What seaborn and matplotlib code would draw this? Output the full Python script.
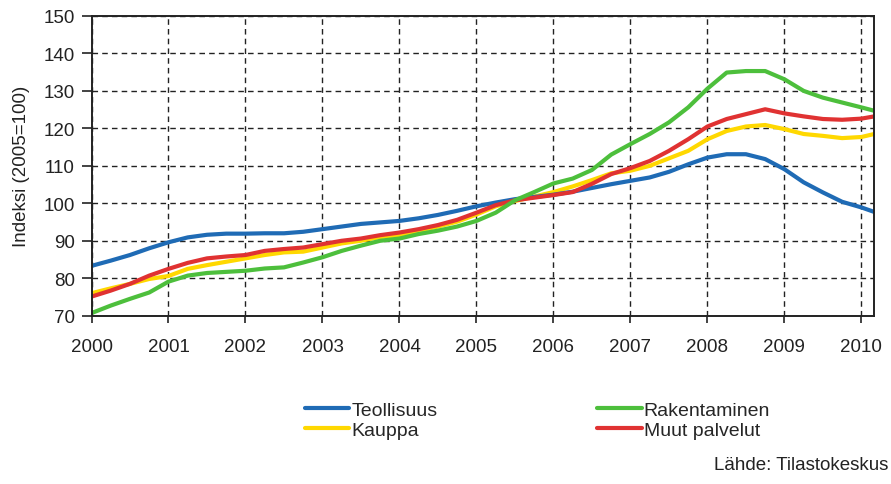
import pandas as pd
import matplotlib.pyplot as plt
import seaborn as sns

# quarterly readings 2000.00 ... 2010.00, last point March 2010
YEARS = [2000 + i * 0.25 for i in range(41)] + [2010 + 2 / 12]

TEOLLISUUS = [
    83.3, 84.7, 86.2, 88.0,
    89.6, 90.9, 91.6, 91.9,
    91.9, 92.0, 92.0, 92.4,
    93.1, 93.8, 94.5, 94.9,
    95.3, 96.0, 96.9, 98.0,
    99.2, 100.2, 101.1, 101.7,
    102.3, 103.1, 104.1, 105.1,
    106.0, 106.9, 108.4, 110.4,
    112.2, 113.1, 113.1, 111.8,
    109.1, 105.6, 102.9, 100.4,
    98.9, 97.7,
]
RAKENTAMINEN = [
    70.7, 72.7, 74.5, 76.2,
    79.1, 80.7, 81.4, 81.7,
    82.0, 82.6, 82.9, 84.2,
    85.6, 87.3, 88.7, 90.0,
    90.6, 91.8, 92.7, 93.8,
    95.3, 97.5, 100.8, 103.0,
    105.3, 106.6, 108.9, 113.0,
    115.8, 118.5, 121.6, 125.6,
    130.6, 134.9, 135.3, 135.3,
    133.1, 130.0, 128.2, 126.9,
    125.6, 124.7,
]
KAUPPA = [
    76.0, 77.3, 78.5, 79.8,
    80.6, 82.5, 83.5, 84.4,
    85.3, 86.2, 86.9, 87.1,
    88.2, 89.3, 90.0, 91.0,
    91.5, 92.7, 93.8, 95.1,
    97.0, 99.2, 100.6, 101.8,
    103.0, 104.5, 106.2, 108.0,
    108.7, 110.0, 112.0, 114.0,
    117.1, 119.3, 120.5, 120.9,
    119.8, 118.5, 118.0, 117.4,
    117.7, 118.5,
]
MUUT_PALVELUT = [
    75.1, 76.7, 78.5, 80.7,
    82.5, 84.1, 85.3, 85.8,
    86.2, 87.3, 87.8, 88.2,
    89.1, 90.0, 90.6, 91.5,
    92.2, 93.1, 94.2, 95.6,
    97.5, 99.5, 100.8, 101.5,
    102.2, 103.0, 105.2, 107.8,
    109.4, 111.3, 114.0, 117.1,
    120.5, 122.5, 123.8, 125.1,
    124.0, 123.2, 122.5, 122.3,
    122.6, 123.2,
]

LABELS = ["Teollisuus", "Kauppa", "Rakentaminen", "Muut palvelut"]
COLORS = {"Teollisuus": "#1f6bb5", "Kauppa": "#ffd800",
          "Rakentaminen": "#4dbf3c", "Muut palvelut": "#e03232"}
# draw order (last on top)
DRAW_ORDER = ["Kauppa", "Teollisuus", "Muut palvelut", "Rakentaminen"]

series = {"Teollisuus": TEOLLISUUS, "Kauppa": KAUPPA,
          "Rakentaminen": RAKENTAMINEN, "Muut palvelut": MUUT_PALVELUT}
df = pd.DataFrame({"vuosi": YEARS, **series})

sns.set_style("white")
plt.rcParams["font.family"] = ["Liberation Sans", "DejaVu Sans"]

fig = plt.figure(figsize=(8.91, 4.85), dpi=100)
ax = fig.add_axes([0.1027, 0.347, 0.8785, 0.618])

handles = {}
for name in DRAW_ORDER:
    sns.lineplot(data=df, x="vuosi", y=name, ax=ax, color=COLORS[name],
                 linewidth=3.0, label=name, legend=False)
    handles[name] = ax.lines[-1]

ax.set_xlim(2000, 2010 + 2 / 12)
ax.set_ylim(70, 150)
ax.set_xticks(range(2000, 2011))
ax.set_yticks(range(70, 151, 10))
ax.grid(True, color="#222222", linestyle=(0, (4, 3)), linewidth=1.0)
ax.set_axisbelow(True)

for sp in ax.spines.values():
    sp.set_visible(True)
    sp.set_color("#222222")
    sp.set_linewidth(1.4)

ax.tick_params(axis="x", direction="out", length=5, width=1.2, pad=11,
               labelsize=13.5, colors="#222222", bottom=True)
ax.tick_params(axis="y", direction="out", length=7, width=1.2, pad=5,
               labelsize=13.5, colors="#222222", left=True)
ax.set_xlabel("")
ax.set_ylabel("Indeksi (2005=100)", fontsize=13.5, color="#222222")
ax.yaxis.set_label_coords(-0.078, 0.5)

fig.legend([handles[n] for n in LABELS], LABELS, ncol=2, frameon=False,
           loc="center", bbox_to_anchor=(0.603, 0.132), fontsize=14,
           handlelength=2.3, handletextpad=0.1, columnspacing=8.2,
           labelspacing=0.15)

fig.text(0.997, 0.041, "Lähde: Tilastokeskus", ha="right", va="center",
         fontsize=13.5, color="#222222")

fig.savefig("out.png", dpi=100)
